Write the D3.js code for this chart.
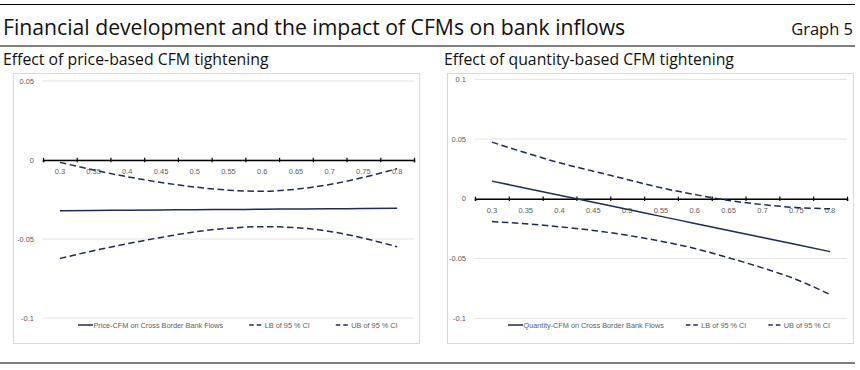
<!DOCTYPE html>
<html>
<head>
<meta charset="utf-8">
<script src="https://cdn.jsdelivr.net/npm/d3@7"></script>
<style>
  body { margin: 0; background: #fff; }
  svg { display: block; }
</style>
</head>
<body>
<div id="chart"></div>
<script>
// financial development levels on the x axis
const fdLevels = ['0.3', '0.35', '0.4', '0.45', '0.5', '0.55', '0.6', '0.65', '0.7', '0.75', '0.8'];

// price-based CFM tightening
const priceEffect = [-0.0321, -0.0319, -0.0318, -0.0316, -0.0315, -0.0313, -0.0312, -0.0310, -0.0309, -0.0307, -0.0306];
const priceLB = [-0.0623, -0.0574, -0.0530, -0.0490, -0.0455, -0.0432, -0.0422, -0.0428, -0.0452, -0.0495, -0.0549];
const priceUB = [-0.0015, -0.0063, -0.0106, -0.0142, -0.0171, -0.0191, -0.0198, -0.0185, -0.0155, -0.0110, -0.0055];
const priceTicks = [0.05, 0, -0.05, -0.1];

// quantity-based CFM tightening
const quantityEffect = [0.0148, 0.0089, 0.0030, -0.0029, -0.0088, -0.0147, -0.0206, -0.0265, -0.0324, -0.0383, -0.0442];
const quantityLB = [-0.0190, -0.0209, -0.0234, -0.0265, -0.0305, -0.0355, -0.0416, -0.0494, -0.0578, -0.0675, -0.0801];
const quantityUB = [0.0474, 0.0385, 0.0301, 0.0231, 0.0162, 0.0092, 0.0036, -0.0014, -0.0048, -0.0073, -0.0084];
const quantityTicks = [0.1, 0.05, 0, -0.05, -0.1];

const W = 860, H = 370;
const lineCol = '#1f2b57';
const labelCol = '#606060';
const gridCol = '#e3e3e3';
const smallFont = 'Liberation Sans, Arial, sans-serif';
const titleFont = 'Open Sans, Noto Sans, sans-serif';

const svg = d3.select('#chart')
  .append('svg')
  .attr('width', W)
  .attr('height', H);

// header rules
[4.5, 46, 363].forEach(y => {
  svg.append('line')
    .attr('x1', 0).attr('x2', 855)
    .attr('y1', y).attr('y2', y)
    .attr('stroke', '#000')
    .attr('stroke-width', 1.2);
});

svg.append('text')
  .attr('x', 3).attr('y', 35)
  .style('font-family', titleFont)
  .style('font-size', '21.2px')
  .style('fill', '#111')
  .text('Financial development and the impact of CFMs on bank inflows');

svg.append('text')
  .attr('x', 853).attr('y', 35)
  .attr('text-anchor', 'end')
  .style('font-family', titleFont)
  .style('font-size', '16.5px')
  .style('fill', '#111')
  .text('Graph 5');

function drawPanel({
  x0, title, titleX, effect, lb, ub, ticks, yDomain, yTop, yBottom,
  plotLeft, plotRight, legendX, legendGap, effectLabel
}) {
  const g = svg.append('g');

  g.append('text')
    .attr('x', titleX).attr('y', 65)
    .style('font-family', titleFont)
    .style('font-size', '15.8px')
    .style('fill', '#111')
    .text(title);

  // chart frame
  g.append('rect')
    .attr('x', x0 + 0.5).attr('y', 73.5)
    .attr('width', 406).attr('height', 270)
    .attr('fill', 'none')
    .attr('stroke', '#d9d9d9');

  const y = d3.scaleLinear().domain(yDomain).range([yBottom, yTop]);
  const x = d3.scaleBand().domain(fdLevels).range([plotLeft, plotRight]);
  const xEdge = d3.scaleLinear().domain([0, fdLevels.length]).range([plotLeft, plotRight]);

  // gridlines
  g.selectAll('.grid')
    .data(ticks)
    .join('line')
    .attr('x1', plotLeft).attr('x2', plotRight)
    .attr('y1', d => y(d)).attr('y2', d => y(d))
    .attr('stroke', gridCol);

  // y labels
  g.selectAll('.ylab')
    .data(ticks)
    .join('text')
    .attr('x', plotLeft - 9)
    .attr('y', d => y(d) + 2.5)
    .attr('text-anchor', 'end')
    .style('font-family', smallFont)
    .style('font-size', '7.5px')
    .style('fill', labelCol)
    .text(d => String(d));

  // category axis at zero, ticks between categories
  const axis = g.append('g')
    .attr('transform', `translate(0,${y(0)})`)
    .call(d3.axisBottom(xEdge).tickValues(d3.range(fdLevels.length + 1)).tickSize(2.2).tickFormat(''));
  axis.select('.domain').attr('stroke', '#000').attr('stroke-width', 1.5);
  axis.selectAll('.tick line').attr('y1', -2.2).attr('stroke', '#000').attr('stroke-width', 1.2);

  g.selectAll('.xlab')
    .data(fdLevels)
    .join('text')
    .attr('x', d => x(d) + x.bandwidth() / 2)
    .attr('y', y(0) + 14)
    .attr('text-anchor', 'middle')
    .style('font-family', smallFont)
    .style('font-size', '7.5px')
    .style('fill', labelCol)
    .text(d => d);

  const line = d3.line()
    .x((d, i) => x(fdLevels[i]) + x.bandwidth() / 2)
    .y(d => y(d))
    .curve(d3.curveMonotoneX);

  [[lb, true], [ub, true], [effect, false]].forEach(([vals, dashed]) => {
    g.append('path')
      .datum(vals)
      .attr('d', line)
      .attr('fill', 'none')
      .attr('stroke', lineCol)
      .attr('stroke-width', 1.5)
      .attr('stroke-dasharray', dashed ? '6.5,3.5' : null);
  });

  // legend
  const items = [
    { label: effectLabel, dashed: false },
    { label: 'LB of 95 % CI', dashed: true },
    { label: 'UB of 95 % CI', dashed: true }
  ];
  let lx = legendX;
  const ly = 325;
  items.forEach(it => {
    g.append('line')
      .attr('x1', lx).attr('x2', lx + 15)
      .attr('y1', ly).attr('y2', ly)
      .attr('stroke', lineCol)
      .attr('stroke-width', 1.5)
      .attr('stroke-dasharray', it.dashed ? '4.5,3' : null);
    const t = g.append('text')
      .attr('x', lx + 15.5).attr('y', ly + 2.5)
      .style('font-family', smallFont)
      .style('font-size', '7.3px')
      .style('fill', labelCol)
      .text(it.label);
    lx += 15.5 + t.node().getComputedTextLength() + legendGap;
  });
}

drawPanel({
  x0: 13, title: 'Effect of price-based CFM tightening', titleX: 3,
  effect: priceEffect, lb: priceLB, ub: priceUB, ticks: priceTicks,
  yDomain: [-0.1, 0.05], yTop: 81, yBottom: 318,
  plotLeft: 43, plotRight: 414, legendX: 78, legendGap: 26,
  effectLabel: 'Price-CFM on Cross Border Bank Flows'
});

drawPanel({
  x0: 447, title: 'Effect of quantity-based CFM tightening', titleX: 444,
  effect: quantityEffect, lb: quantityLB, ub: quantityUB, ticks: quantityTicks,
  yDomain: [-0.1, 0.1], yTop: 79.3, yBottom: 318.3,
  plotLeft: 475, plotRight: 847, legendX: 508, legendGap: 22,
  effectLabel: 'Quantity-CFM on Cross Border Bank Flows'
});
</script>
</body>
</html>
